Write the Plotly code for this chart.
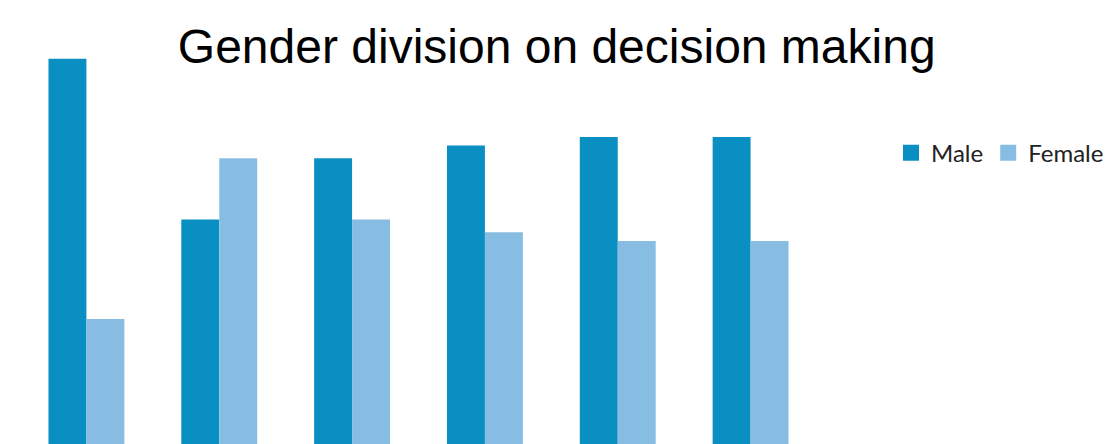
import plotly.graph_objects as go

categories = ["Cat 1", "Cat 2", "Cat 3", "Cat 4", "Cat 5", "Cat 6"]
male = [75.5, 44.0, 56.0, 58.5, 60.2, 60.2]
female = [24.5, 56.0, 44.0, 41.5, 39.8, 39.8]
series = [("Male", male, "#0A8FC2"), ("Female", female, "#88BDE3")]

fig = go.Figure()
for name, vals, col in series:
    fig.add_trace(go.Bar(x=categories, y=vals, name=name, legendgroup=name, showlegend=False,
                         marker=dict(color=col, line=dict(width=0))))
for name, vals, col in series:
    fig.add_trace(go.Scatter(x=[None], y=[None], mode="markers", name=name, legendgroup=name,
                             marker=dict(symbol="square", size=16, color=col)))

fig.update_layout(
    width=1109, height=444,
    margin=dict(l=19.5, r=291.5, t=40, b=0),
    paper_bgcolor="white", plot_bgcolor="white",
    barmode="group", bargap=0.4286, bargroupgap=0,
    title=dict(text="Gender division on decision making", x=0.502, xanchor="center",
               y=0.895, yanchor="middle",
               font=dict(family="Liberation Sans, Arial", size=48, color="black")),
    showlegend=True,
    legend=dict(orientation="h", x=1.093, xanchor="left", y=0.72, yanchor="middle",
                font=dict(family="Lato", size=24, color="#222"), itemwidth=30,
                bgcolor="rgba(0,0,0,0)"),
    xaxis=dict(visible=False),
    yaxis=dict(visible=False, range=[0, 79.2]),
)

fig.write_html("out.html")
